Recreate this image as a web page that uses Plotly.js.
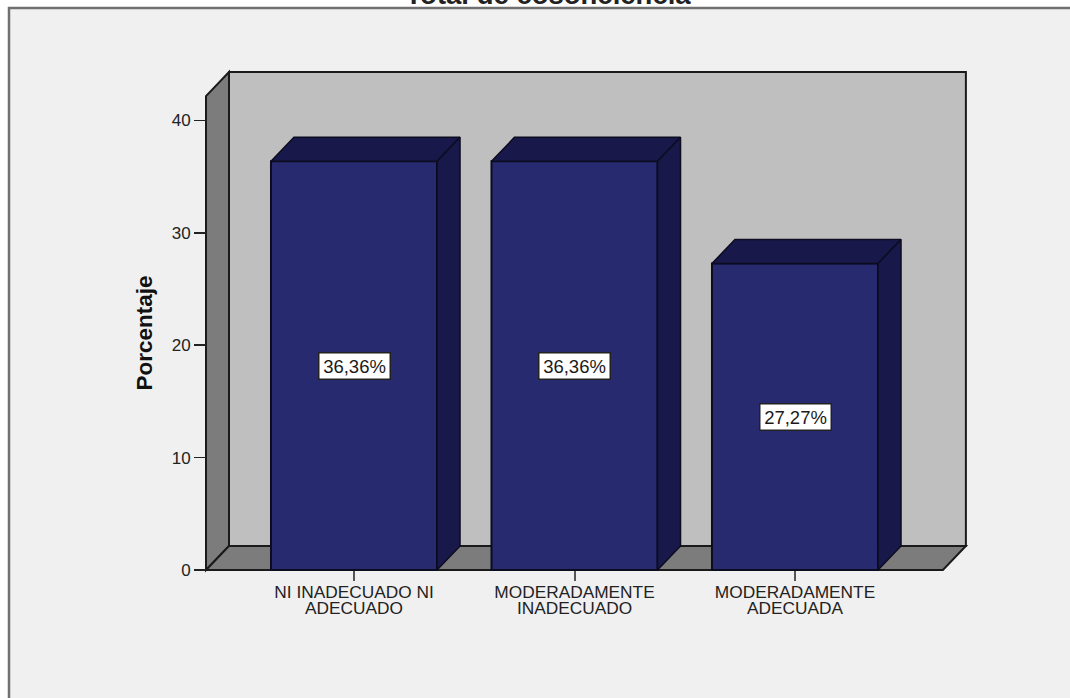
<!DOCTYPE html>
<html>
<head>
<meta charset="utf-8">
<script src="https://cdn.plot.ly/plotly-3.0.1.min.js"></script>
<style>html,body{margin:0;padding:0;background:#fff;overflow:hidden}</style>
</head>
<body>
<div id="chart" style="width:1070px;height:698px"></div>
<script>
const categories = ["NI INADECUADO NI<br>ADECUADO", "MODERADAMENTE<br>INADECUADO", "MODERADAMENTE<br>ADECUADA"];
const positions = [1, 2, 3];
const values = [36.36, 36.36, 27.27];
const labels = ["36,36%", "36,36%", "27,27%"];
const yTicks = [0, 10, 20, 30, 40];

// Appearance of the pseudo-3D box, in axis units
const barWidth = 0.753, depthX = 0.1043, depthY = 2.135;
const xLeft = 0.3288, xRightBack = 3.775, yTopBack = 44.3;
const W = 1070, H = 698, L = 200, R = 976, T = 66, B = 576;
const pxPerX = 220.5, pxPerY = 11.24, x1Px = 354, y0Px = 570;

const edge = '#1a1a1a', wallSide = '#7c7c7c', wallBack = '#bfbfbf';
const barFront = '#282a70', barDark = '#18194a';
const sans = 'Liberation Sans, Arial, sans-serif';

function poly(pts, fill) {
  return {type:'path', xref:'x', yref:'y', layer:'below', fillcolor:fill,
    line:{color:edge, width:2},
    path:'M' + pts.map(p => p[0] + ',' + p[1]).join('L') + 'Z'};
}
const shapes = [
  {type:'rect', xref:'paper', yref:'paper', layer:'below',
   x0:(9-L)/(R-L), x1:(W+10-L)/(R-L), y0:(B-(H+10))/(B-T), y1:(B-8)/(B-T),
   fillcolor:'#f0f0f0', line:{color:'#707070', width:2.5}},
  poly([[xLeft+depthX,depthY],[xRightBack,depthY],[xRightBack,yTopBack],[xLeft+depthX,yTopBack]], wallBack),
  poly([[xLeft,0],[xLeft+depthX,depthY],[xLeft+depthX,yTopBack],[xLeft,yTopBack-depthY]], wallSide),
  poly([[xLeft,0],[xRightBack-depthX,0],[xRightBack,depthY],[xLeft+depthX,depthY]], wallSide)
];

const traces = [{
  type:'bar', x:positions, y:values, width:barWidth,
  marker:{color:barFront, line:{color:'#0c0c20', width:2}},
  hoverinfo:'skip'
}];
positions.forEach((p, i) => {
  const l = p - barWidth/2, r = p + barWidth/2, v = values[i];
  const face = (xs, ys) => ({type:'scatter', mode:'lines', x:xs, y:ys, fill:'toself',
    fillcolor:barDark, line:{color:'#0c0c20', width:1.5}, hoverinfo:'skip', showlegend:false});
  traces.push(face([l, l+depthX, r+depthX, r, l], [v, v+depthY, v+depthY, v, v]));
  traces.push(face([r, r+depthX, r+depthX, r, r], [v, v+depthY, depthY, 0, v]));
});

const annotations = positions.map((p, i) => ({
  x:p, y:values[i]/2, xref:'x', yref:'y', text:labels[i], showarrow:false,
  font:{family:sans, size:18.5, color:'#1a1a1a'}, width:68, height:23,
  bgcolor:'#ffffff', bordercolor:'#222222', borderwidth:1.5, borderpad:1
}));

const layout = {
  width:W, height:H, autosize:false, showlegend:false,
  paper_bgcolor:'#ffffff', plot_bgcolor:'rgba(0,0,0,0)',
  margin:{l:L, r:W-R, t:T, b:H-B, pad:0},
  font:{family:sans, color:'#222'},
  title:{text:'Total de cosonciencia', x:548/W, xanchor:'center', y:1-4/H, yanchor:'bottom', yref:'container',
         font:{size:27.5, color:'#222', weight:'bold'}},
  xaxis:{range:[1+(L-x1Px)/pxPerX, 1+(R-x1Px)/pxPerX], tickvals:positions, ticktext:categories,
         showgrid:false, zeroline:false, showline:false, ticks:'outside', ticklen:10, tickwidth:2,
         tickcolor:'#555', tickfont:{size:17.3, color:'#222'}, ticklabelstandoff:-4,
         anchor:'free', position:(B-y0Px)/(B-T), fixedrange:true},
  yaxis:{range:[(y0Px-B)/pxPerY, (y0Px-T)/pxPerY], tickvals:yTicks, ticktext:yTicks.map(String),
         showgrid:false, zeroline:false, showline:false, ticks:'outside', ticklen:12, tickwidth:1.5,
         tickcolor:'#222', tickfont:{size:17, color:'#222'}, anchor:'free', position:(206-L)/(R-L), fixedrange:true,
         title:{text:'Porcentaje', font:{size:22.5, color:'#111', weight:'bold'}, standoff:14}},
  shapes, annotations
};
Plotly.newPlot('chart', traces, layout, {displayModeBar:false, staticPlot:true}).then(() => {
  // tighter line spacing of the two-line category labels, as in the reference
  document.querySelectorAll('.xtick text').forEach(t => {
    t.querySelectorAll('tspan.line').forEach((s, i) => { if (i > 0) s.setAttribute('dy', '16px'); });
  });
  // the axis title sits lower than the middle of the axis in the reference
  const g = document.querySelector('.g-ytitle');
  if (g) {
    const b = g.getBoundingClientRect();
    g.setAttribute('transform', 'translate(' + (144-(b.left+b.right)/2) + ',' + (333-(b.top+b.bottom)/2) + ')');
  }
});
</script>
</body>
</html>
